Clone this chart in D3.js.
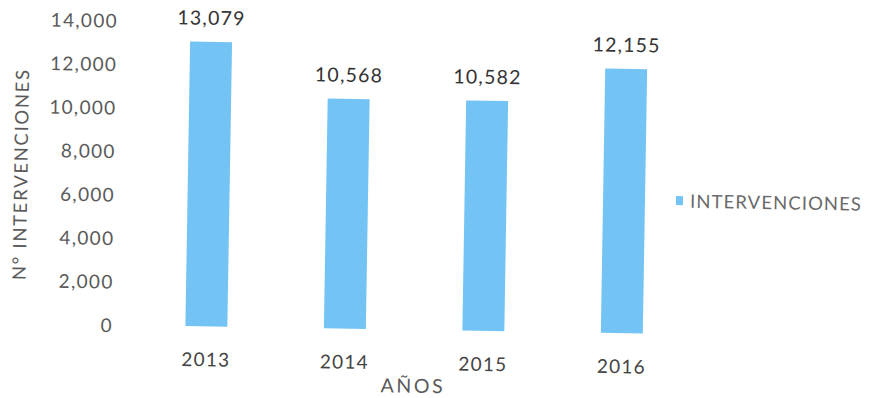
<!DOCTYPE html>
<html>
<head>
<meta charset="utf-8">
<script src="https://cdn.jsdelivr.net/npm/d3@7"></script>
<style>
  html, body { margin: 0; padding: 0; background: #fff; }
  svg { display: block; }
  text { font-family: Lato, "Open Sans", sans-serif; }
</style>
</head>
<body>
<svg id="chart" width="871" height="398"></svg>
<script>
// Interventions per year
const years = ["2013", "2014", "2015", "2016"];
const interventions = [13079, 10568, 10582, 12155];
const yTicks = [0, 2000, 4000, 6000, 8000, 10000, 12000, 14000];
const seriesName = "INTERVENCIONES";
const xTitle = "AÑOS";
const yTitle = "N° INTERVENCIONES";

const barColor = "#73c4f5";

const svg = d3.select("#chart");
svg.append("rect").attr("width", 871).attr("height", 398).attr("fill", "#fff");

// whole chart sits slightly tilted on the page
const g = svg.append("g").attr("transform", "rotate(0.95, 430, 200)");

const x = d3.scaleBand()
  .domain(years)
  .range([139.25, 693.25])
  .paddingInner(0.697)
  .paddingOuter(0.3485);

const y = d3.scaleLinear()
  .domain([0, 14000])
  .range([330, 25.5]);

// value axis: labels only
const yAxis = g.append("g")
  .attr("transform", "translate(115,0)")
  .call(d3.axisLeft(y).tickValues(yTicks).tickFormat(d3.format(",")).tickSize(0).tickPadding(0));
yAxis.select(".domain").remove();
yAxis.selectAll("text")
  .attr("fill", "#5a5a5a")
  .style("font-size", "19px")
  .style("letter-spacing", "1.3px")
  .attr("dy", "0.36em");

// category axis: labels only
const xAxis = g.append("g")
  .attr("transform", "translate(0,330)")
  .call(d3.axisBottom(x).tickSize(0));
xAxis.select(".domain").remove();
xAxis.selectAll("text")
  .attr("fill", "#444")
  .attr("y", 40)
  .attr("dy", null)
  .style("font-size", "19px")
  .style("letter-spacing", "1.2px");

// bars
g.selectAll("rect.bar")
  .data(interventions)
  .join("rect")
  .attr("class", "bar")
  .attr("x", (d, i) => x(years[i]))
  .attr("width", x.bandwidth())
  .attr("y", d => y(d))
  .attr("height", d => y(0) - y(d))
  .attr("fill", barColor);

// value labels
g.selectAll("text.val")
  .data(interventions)
  .join("text")
  .attr("class", "val")
  .attr("x", (d, i) => x(years[i]) + x.bandwidth() / 2)
  .attr("y", d => y(d) - 17)
  .attr("text-anchor", "middle")
  .attr("fill", "#333")
  .style("font-size", "19.5px")
  .style("letter-spacing", "1.2px")
  .text(d => d3.format(",")(d));

// axis titles
g.append("text")
  .attr("x", 416)
  .attr("y", 393)
  .attr("text-anchor", "middle")
  .attr("fill", "#5a5a5a")
  .style("font-size", "19.5px")
  .style("letter-spacing", "2.6px")
  .text(xTitle);

g.append("text")
  .attr("transform", "translate(27,181) rotate(-90)")
  .attr("text-anchor", "middle")
  .attr("fill", "#5a5a5a")
  .style("font-size", "18.5px")
  .style("letter-spacing", "1.7px")
  .text(yTitle);

// legend
const legend = g.append("g").attr("transform", "translate(676,197)");
legend.append("rect")
  .attr("x", 0).attr("y", -5)
  .attr("width", 7).attr("height", 9)
  .attr("fill", barColor);
legend.append("text")
  .attr("x", 14)
  .attr("y", 6.5)
  .attr("fill", "#6a6a6a")
  .style("font-size", "18.5px")
  .style("letter-spacing", "1.1px")
  .text(seriesName);
</script>
</body>
</html>
